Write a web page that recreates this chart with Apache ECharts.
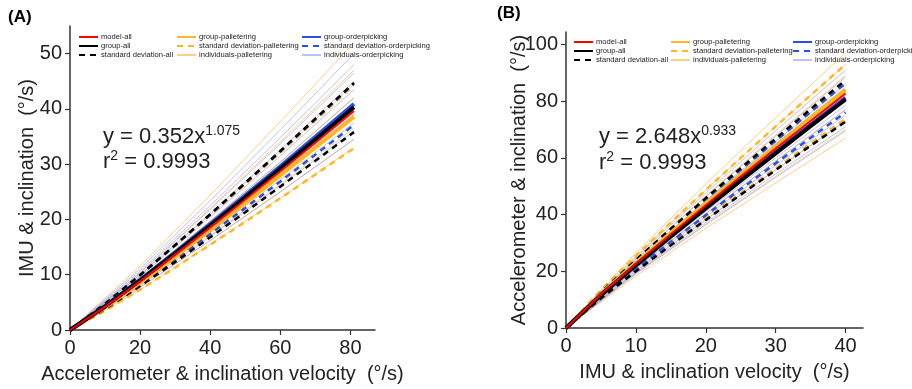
<!DOCTYPE html>
<html>
<head>
<meta charset="utf-8">
<script src="https://cdn.jsdelivr.net/npm/echarts@6/dist/echarts.min.js"></script>
<style>
  html, body { margin: 0; padding: 0; background: #fff; }
  #chart { width: 912px; height: 389px; }
</style>
</head>
<body>
<div id="chart"></div>
<script>
// ---- panel A : accelerometer (x) vs IMU (y) ----
const xA = [0, 10, 20, 30, 40, 50, 60, 70, 81]
const modelA = [0, 4.18, 8.81, 13.63, 18.57, 23.6, 28.71, 33.89, 39.63]
const groupAllA = [0, 4.25, 8.96, 13.86, 18.88, 24.0, 29.2, 34.46, 40.3]
const groupPallA = [0, 4.07, 8.58, 13.27, 18.09, 22.99, 27.97, 33.01, 38.6]
const groupOrderA = [0, 4.31, 9.09, 14.07, 19.17, 24.36, 29.63, 34.98, 40.9]
const sdAllUpA = [0, 4.72, 9.94, 15.37, 20.95, 26.62, 32.39, 38.23, 44.7]
const sdAllLoA = [0, 3.78, 7.96, 12.31, 16.78, 21.32, 25.94, 30.62, 35.8]
const sdPallUpA = [0, 4.67, 9.85, 15.23, 20.76, 26.38, 32.1, 37.89, 44.3]
const sdPallLoA = [0, 3.47, 7.31, 11.31, 15.42, 19.59, 23.84, 28.14, 32.9]
const sdOrderUpA = [0, 4.71, 9.91, 15.34, 20.9, 26.56, 32.31, 38.14, 44.6]
const sdOrderLoA = [0, 3.91, 8.25, 12.76, 17.39, 22.09, 26.88, 31.73, 37.1]
const xAInd = [0, 20, 40, 60, 81]
const indPallA = [
  [0, 11.6, 24.4, 37.7, 52],
  [0, 10.4, 22.0, 34.1, 47],
  [0, 9.9, 20.9, 32.2, 44.5],
  [0, 9.3, 19.7, 30.4, 42],
  [0, 8.7, 18.3, 28.3, 39],
  [0, 8.1, 17.1, 26.4, 36.5],
  [0, 7.7, 16.2, 25.0, 34.5],
  [0, 7.3, 15.5, 23.9, 33]
]
const indOrderA = [
  [0, 11.1, 23.4, 36.2, 50],
  [0, 10.7, 22.5, 34.8, 48],
  [0, 10.3, 21.8, 33.7, 46.5],
  [0, 10.0, 21.1, 32.6, 45],
  [0, 9.7, 20.4, 31.5, 43.5],
  [0, 9.3, 19.7, 30.4, 42],
  [0, 9.1, 19.2, 29.7, 41],
  [0, 8.9, 18.8, 29.0, 40],
  [0, 8.7, 18.3, 28.3, 39],
  [0, 8.3, 17.6, 27.2, 37.5],
  [0, 8.0, 16.9, 26.1, 36],
  [0, 7.7, 16.2, 25.0, 34.5]
]

// ---- panel B : IMU (x) vs accelerometer (y) ----
const xB = [0, 5, 10, 15, 20, 25, 30, 35, 40]
const modelB = [0, 11.9, 22.7, 33.1, 43.3, 53.4, 63.3, 73.0, 82.7]
const groupAllB = [0, 11.6, 22.1, 32.3, 42.2, 52.0, 61.6, 71.2, 80.6]
const groupPallB = [0, 12.1, 23.0, 33.6, 44.0, 54.2, 64.2, 74.2, 84]
const groupOrderB = [0, 11.7, 22.3, 32.5, 42.5, 52.4, 62.1, 71.7, 81.2]
const sdAllUpB = [0, 12.6, 24.0, 35.0, 45.8, 56.4, 66.8, 77.2, 87.4]
const sdAllLoB = [0, 10.5, 20.0, 29.2, 38.1, 47.0, 55.7, 64.3, 72.8]
const sdPallUpB = [0, 13.4, 25.5, 37.2, 48.7, 60.0, 71.1, 82.1, 93]
const sdPallLoB = [0, 10.6, 20.2, 29.6, 38.6, 47.6, 56.4, 65.2, 73.8]
const sdOrderUpB = [0, 12.4, 23.7, 34.6, 45.2, 55.7, 66.0, 76.2, 86.3]
const sdOrderLoB = [0, 10.9, 20.8, 30.4, 39.8, 49.0, 58.1, 67.1, 76]
const xBInd = [0, 10, 20, 30, 40]
const indPallB = [
  [0, 26.6, 50.8, 74.2, 97],
  [0, 25.5, 48.7, 71.1, 93],
  [0, 24.4, 46.6, 68.1, 89],
  [0, 23.3, 44.5, 65.0, 85],
  [0, 22.2, 42.4, 61.9, 81],
  [0, 21.1, 40.3, 58.9, 77],
  [0, 20.0, 38.2, 55.8, 73],
  [0, 19.2, 36.6, 53.5, 70],
  [0, 18.4, 35.1, 51.2, 67]
]
const indOrderB = [
  [0, 25.0, 47.6, 69.6, 91],
  [0, 24.3, 46.3, 67.7, 88.5],
  [0, 23.6, 45.0, 65.8, 86],
  [0, 23.0, 44.0, 64.2, 84],
  [0, 22.5, 42.9, 62.7, 82],
  [0, 21.9, 41.9, 61.2, 80],
  [0, 21.5, 41.1, 60.0, 78.5],
  [0, 21.1, 40.3, 58.9, 77],
  [0, 20.6, 39.3, 57.4, 75],
  [0, 20.0, 38.2, 55.8, 73],
  [0, 19.5, 37.2, 54.3, 71],
  [0, 19.1, 36.4, 53.1, 69.5]
]

const ticksA = [0, 20, 40, 60, 80]
const ticksAy = [0, 10, 20, 30, 40, 50]
const ticksB = [0, 10, 20, 30, 40]
const ticksBy = [0, 20, 40, 60, 80, 100]

const FONT = '"Liberation Sans", Arial, sans-serif'
const RED = '#ff0000'
const ORANGE = '#ffb727'
const BLUE = '#2d4fe0'
const IND_ORANGE = 'rgba(255, 190, 95, 0.75)'
const IND_BLUE = 'rgba(140, 155, 240, 0.6)'
const DASH = [6, 5]

function line(name, xs, ys, idx, color, width, dashed) {
  return {
    type: 'line',
    name: name,
    xAxisIndex: idx,
    yAxisIndex: idx,
    data: xs.map((x, i) => [x, ys[i]]),
    symbol: 'none',
    silent: true,
    color: color,
    lineStyle: { color: color, width: width, type: dashed ? DASH : 'solid' }
  }
}

function panelSeries(idx, d) {
  const s = []
  d.indPall.forEach(ys => s.push(line('individuals-palletering', d.xInd, ys, idx, IND_ORANGE, 1)))
  d.indOrder.forEach(ys => s.push(line('individuals-orderpicking', d.xInd, ys, idx, IND_BLUE, 1)))
  s.push(line('standard deviation-palletering', d.x, d.sdPallUp, idx, ORANGE, 2.5, true))
  s.push(line('standard deviation-palletering', d.x, d.sdPallLo, idx, ORANGE, 2.5, true))
  s.push(line('standard deviation-orderpicking', d.x, d.sdOrderUp, idx, BLUE, 2.5, true))
  s.push(line('standard deviation-orderpicking', d.x, d.sdOrderLo, idx, BLUE, 2.5, true))
  s.push(line('standard deviation-all', d.x, d.sdAllUp, idx, '#000', 2.5, true))
  s.push(line('standard deviation-all', d.x, d.sdAllLo, idx, '#000', 2.5, true))
  s.push(line('group-palletering', d.x, d.groupPall, idx, ORANGE, 4))
  s.push(line('group-orderpicking', d.x, d.groupOrder, idx, BLUE, 4))
  s.push(line('group-all', d.x, d.groupAll, idx, '#000', 4))
  s.push(line('model-all', d.x, d.model, idx, RED, 2))
  return s
}

const series = panelSeries(0, {
  x: xA, xInd: xAInd, model: modelA, groupAll: groupAllA, groupPall: groupPallA, groupOrder: groupOrderA,
  sdAllUp: sdAllUpA, sdAllLo: sdAllLoA, sdPallUp: sdPallUpA, sdPallLo: sdPallLoA,
  sdOrderUp: sdOrderUpA, sdOrderLo: sdOrderLoA, indPall: indPallA, indOrder: indOrderA
}).concat(panelSeries(1, {
  x: xB, xInd: xBInd, model: modelB, groupAll: groupAllB, groupPall: groupPallB, groupOrder: groupOrderB,
  sdAllUp: sdAllUpB, sdAllLo: sdAllLoB, sdPallUp: sdPallUpB, sdPallLo: sdPallLoB,
  sdOrderUp: sdOrderUpB, sdOrderLo: sdOrderLoB, indPall: indPallB, indOrder: indOrderB
}))

function axis(idx, max, ticks, name, gap) {
  return {
    type: 'value',
    gridIndex: idx,
    min: 0,
    max: max,
    name: name,
    nameLocation: 'middle',
    nameGap: gap,
    nameMoveOverlap: false,
    nameTextStyle: { fontFamily: FONT, fontSize: 20, color: '#222' },
    axisLine: { show: true, onZero: false, lineStyle: { color: '#333', width: 1.5 } },
    axisTick: { show: true, length: 5, customValues: ticks, lineStyle: { color: '#333', width: 1.2 } },
    axisLabel: { customValues: ticks, margin: 8, fontFamily: FONT, fontSize: 20, color: '#222' },
    splitLine: { show: false }
  }
}

const legendCols = [
  ['model-all', 'group-all', 'standard deviation-all'],
  ['group-palletering', 'standard deviation-palletering', 'individuals-palletering'],
  ['group-orderpicking', 'standard deviation-orderpicking', 'individuals-orderpicking']
]
function legends(lefts, top) {
  return legendCols.map((names, i) => ({
    orient: 'vertical',
    left: lefts[i],
    top: top,
    itemWidth: 19,
    itemHeight: 8,
    itemGap: 1,
    padding: 0,
    selectedMode: false,
    itemStyle: { opacity: 0 },
    textStyle: { fontFamily: FONT, fontSize: 7.6, color: '#222', padding: [0, 0, 0, -2] },
    data: names
  }))
}

const chart = echarts.init(document.getElementById('chart'))
chart.setOption({
  animation: false,
  backgroundColor: '#fff',
  grid: [
    { left: 70, right: 912 - 375, top: 26, bottom: 389 - 330 },
    { left: 566, right: 912 - 863, top: 32, bottom: 389 - 328 }
  ],
  xAxis: [
    axis(0, 87, ticksA, 'Accelerometer & inclination velocity  (°/s)', 34),
    axis(1, 42.5, ticksB, 'IMU & inclination velocity  (°/s)', 34)
  ],
  yAxis: [
    axis(0, 55, ticksAy, 'IMU & inclination  (°/s)', 33),
    axis(1, 104.4, ticksBy, 'Accelerometer & inclination  (°/s)', 37)
  ],
  legend: legends([78, 176, 301], 33).concat(legends([573, 670, 792], 38)),
  graphic: [
    { type: 'text', left: 8, top: 9, style: { text: '(A)', font: 'bold 17px ' + FONT, fill: '#000' } },
    { type: 'text', left: 497, top: 5, style: { text: '(B)', font: 'bold 17px ' + FONT, fill: '#000' } },
    {
      type: 'text', left: 103, top: 124,
      style: {
        text: '{b|y = 0.352x}{s|1.075}\n{b|r}{s|2}{b| = 0.9993}',
        rich: {
          b: { fontFamily: FONT, fontSize: 22, lineHeight: 25, fill: '#222' },
          s: { fontFamily: FONT, fontSize: 14, lineHeight: 14, verticalAlign: 'top', fill: '#222' }
        }
      }
    },
    {
      type: 'text', left: 599, top: 124,
      style: {
        text: '{b|y = 2.648x}{s|0.933}\n{b|r}{s|2}{b| = 0.9993}',
        rich: {
          b: { fontFamily: FONT, fontSize: 22, lineHeight: 26, fill: '#222' },
          s: { fontFamily: FONT, fontSize: 14, lineHeight: 14, verticalAlign: 'top', fill: '#222' }
        }
      }
    }
  ],
  series: series
})
</script>
</body>
</html>
